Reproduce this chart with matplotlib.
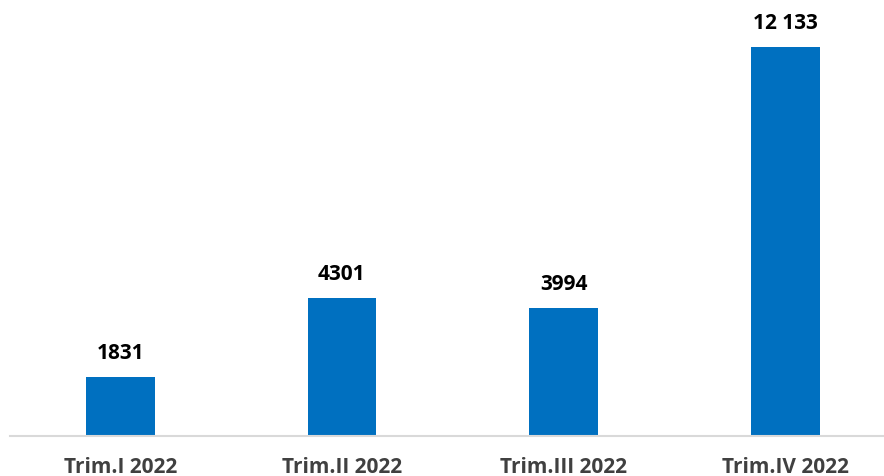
import matplotlib.pyplot as plt

categories = ["Trim.I 2022", "Trim.II 2022", "Trim.III 2022", "Trim.IV 2022"]
values = [1831, 4301, 3994, 12133]
labels = ["1831", "4301", "3994", "12 133"]


def main():
    plt.rcParams['font.family'] = ['Open Sans', 'DejaVu Sans']
    fig = plt.figure(figsize=(8.84, 4.76), dpi=100)
    # axes run past the right edge, like the cropped original
    ax = fig.add_axes([9.5 / 884, 40 / 476, 886.5 / 884, 416.8 / 476])

    x = range(len(values))
    ax.bar(x, values, width=0.31, color="#0070C0")
    ax.set_xlim(-0.5, 3.5)
    ax.set_ylim(0, 13000)

    for i, v in enumerate(values):
        ax.annotate(labels[i], (i, v), xytext=(0, 13), textcoords="offset points",
                    ha="center", va="baseline", fontsize=15, fontweight="bold",
                    color="black")

    ax.set_xticks(list(x))
    ax.set_xticklabels(categories, fontsize=15, fontweight="bold", color="#404040")
    ax.tick_params(axis="x", length=0, pad=15)
    ax.set_yticks([])
    for s in ["top", "right", "left"]:
        ax.spines[s].set_visible(False)
    ax.spines["bottom"].set_color("#D9D9D9")
    ax.spines["bottom"].set_linewidth(1.5)

    fig.savefig("out.png", dpi=100)


if __name__ == "__main__":
    main()
